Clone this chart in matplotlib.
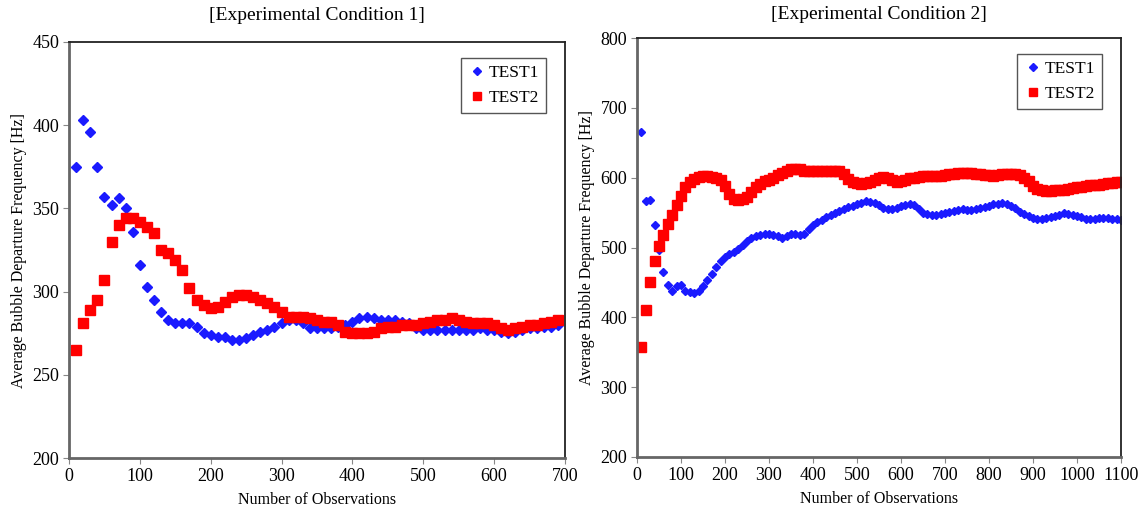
import numpy as np
import matplotlib
matplotlib.use('Agg')
import matplotlib.pyplot as plt

plt.rcParams['font.family'] = ['Liberation Serif', 'DejaVu Serif']

# condition 1: every 10 observations, 10..690
n1 = list(range(10, 700, 10))
test1_c1 = [375, 403, 396, 375, 357, 352, 356, 350, 336, 316,
            303, 295, 288, 283, 281, 281, 281, 279, 275, 274,
            273, 273, 271, 271, 272, 274, 276, 277, 279, 281,
            283, 283, 281, 278, 278, 278, 278, 279, 280, 282,
            284, 285, 284, 283, 283, 283, 282, 281, 278, 277,
            277, 277, 277, 277, 277, 277, 277, 278, 277, 277,
            276, 275, 276, 277, 278, 278, 279, 279, 280]
test2_c1 = [265, 281, 289, 295, 307, 330, 340, 344, 344, 342,
            339, 335, 325, 323, 319, 313, 302, 295, 292, 290,
            291, 294, 297, 298, 298, 297, 295, 293, 291, 288,
            285, 285, 285, 284, 283, 282, 282, 280, 276, 275,
            275, 275, 276, 278, 279, 279, 280, 280, 280, 281,
            282, 283, 283, 284, 283, 282, 281, 281, 281, 280,
            278, 277, 278, 279, 280, 280, 281, 282, 283]

# condition 2: every 10 observations, 10..1100
n2 = list(range(10, 1110, 10))
test1_c2 = [665, 566, 568, 532, 496, 465, 446, 438, 445, 447,
            438, 436, 435, 438, 445, 453, 462, 472, 481, 487,
            490, 494, 498, 504, 510, 514, 517, 518, 519, 519,
            518, 516, 513, 516, 519, 519, 518, 520, 526, 532,
            537, 540, 543, 546, 550, 553, 555, 558, 560, 562,
            564, 566, 565, 564, 561, 557, 555, 555, 557, 559,
            561, 562, 561, 555, 550, 548, 547, 547, 548, 550,
            551, 553, 554, 555, 554, 554, 555, 557, 558, 560,
            562, 563, 564, 563, 560, 556, 551, 548, 545, 542,
            541, 541, 542, 543, 545, 547, 549, 548, 546, 545,
            543, 541, 541, 541, 542, 542, 542, 541, 541, 540]
test2_c2 = [357, 410, 451, 481, 502, 518, 533, 546, 561, 574,
            586, 594, 598, 601, 603, 603, 601, 600, 597, 588,
            577, 570, 568, 569, 573, 579, 586, 591, 595, 597,
            600, 604, 607, 610, 612, 613, 612, 610, 610, 610,
            610, 610, 610, 610, 609, 609, 605, 598, 594, 592,
            591, 592, 594, 596, 599, 601, 600, 597, 594, 595,
            597, 599, 600, 601, 602, 602, 603, 603, 603, 604,
            605, 606, 607, 607, 607, 607, 606, 605, 604, 604,
            603, 604, 605, 606, 606, 605, 604, 600, 595, 588,
            584, 582, 581, 581, 582, 582, 583, 584, 585, 586,
            587, 588, 589, 590, 590, 591, 592, 593, 594, 594]

fig = plt.figure(figsize=(11.46, 5.14), dpi=100)
ax1 = fig.add_axes([0.0602, 0.1089, 0.4328, 0.8094])
ax2 = fig.add_axes([0.5558, 0.1109, 0.4223, 0.8151])


def style(ax, title, xmax, xstep, ymin, ymax, ystep, tpad):
    ax.set_xlim(0, xmax)
    ax.set_ylim(ymin, ymax)
    ax.set_xticks(np.arange(0, xmax + 1, xstep))
    ax.set_yticks(np.arange(ymin, ymax + 1, ystep))
    ax.set_title(title, fontsize=14, pad=tpad)
    ax.set_xlabel('Number of Observations', fontsize=11.5, labelpad=5)
    ax.set_ylabel('Average Bubble Departure Frequency [Hz]', fontsize=11.5, labelpad=4)
    ax.tick_params(direction='out', length=4, color='#888888', labelsize=13, pad=3)
    for s in ['left', 'bottom']:
        ax.spines[s].set_color('#666666')
        ax.spines[s].set_linewidth(2)
    for s in ['top', 'right']:
        ax.spines[s].set_color('#222222')
        ax.spines[s].set_linewidth(1.3)


ax1.plot(n1, test1_c1, 'D', color='#1a1aff', ms=5, mec='#1a1aff', label='TEST1')
ax1.plot(n1, test2_c1, 's', color='#ff0000', ms=7, mec='#ff0000', label='TEST2')
style(ax1, '[Experimental Condition 1]', 700, 100, 200, 450, 50, 16)

ax2.plot(n2, test1_c2, 'D', color='#1a1aff', ms=4.5, mec='#1a1aff', label='TEST1')
ax2.plot(n2, test2_c2, 's', color='#ff0000', ms=6.5, mec='#ff0000', label='TEST2')
style(ax2, '[Experimental Condition 2]', 1100, 100, 200, 800, 100, 14)

for ax in (ax1, ax2):
    leg = ax.legend(loc='upper right', bbox_to_anchor=(0.99, 0.995), fontsize=12.5,
                    fancybox=False, framealpha=1, edgecolor='#555555',
                    handlelength=1.0, handletextpad=0.2, borderpad=0.4,
                    labelspacing=0.5, markerscale=0.8, borderaxespad=0.8)
    leg.get_frame().set_linewidth(1)

fig.savefig('out.png', dpi=100)
